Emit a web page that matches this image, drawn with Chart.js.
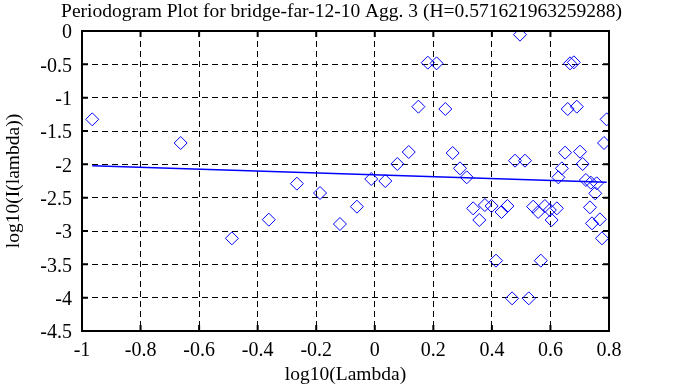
<!DOCTYPE html>
<html>
<head>
<meta charset="utf-8">
<script src="https://cdn.jsdelivr.net/npm/chart.js@4"></script>
<style>
  body { margin: 0; background: #fff; }
  canvas { display: block; }
</style>
</head>
<body>
<canvas id="periodogramChart" width="683" height="387"></canvas>
<script>
// log10(Lambda) / log10(I(lambda)) 값 — 그림에서 읽은 값
const logLambda = [
  -0.965, -0.663, -0.488, -0.362, -0.266, -0.187, -0.119, -0.061, -0.012, 0.036,
  0.077, 0.116, 0.149, 0.181, 0.211, 0.241, 0.266, 0.291, 0.314, 0.336,
  0.357, 0.376, 0.399, 0.414, 0.433, 0.453, 0.469, 0.479, 0.496, 0.513,
  0.526, 0.541, 0.558, 0.567, 0.581, 0.598, 0.604, 0.622, 0.627, 0.639,
  0.65, 0.659, 0.667, 0.68, 0.69, 0.701, 0.71, 0.721, 0.735, 0.738,
  0.742, 0.753, 0.758, 0.769, 0.776, 0.783, 0.792,
];
const logPower = [
  -1.325, -1.68, -3.11, -2.83, -2.29, -2.43, -2.895, -2.635, -2.22, -2.25,
  -1.995, -1.815, -1.135, -0.475, -0.485, -1.17, -1.83, -2.06, -2.195, -2.66,
  -2.835, -2.61, -2.625, -3.445, -2.715, -2.625, -4.01, -1.945, -0.055, -1.945,
  -4.01, -2.635, -2.715, -3.445, -2.625, -2.685, -2.835, -2.66, -2.195, -2.06,
  -1.825, -1.17, -0.485, -0.47, -1.135, -1.81, -1.995, -2.235, -2.645, -2.275,
  -2.885, -2.435, -2.285, -2.825, -3.11, -1.68, -1.325,
];
// 회귀선 양 끝점
const fitX = [-0.965, 0.792];
const fitY = [-2.02, -2.27];

const xTicks = [-1, -0.8, -0.6, -0.4, -0.2, 0, 0.2, 0.4, 0.6, 0.8];
const yTicks = [0, -0.5, -1, -1.5, -2, -2.5, -3, -3.5, -4, -4.5];

const blue = '#0000ff';
const serif = "'Liberation Serif', 'DejaVu Serif', serif";

// 테두리 + 안쪽 눈금
const frameBox = {
  id: 'frameBox',
  afterDraw(chart) {
    const { ctx, chartArea: a, scales } = chart;
    ctx.save();
    ctx.strokeStyle = '#000';
    ctx.lineWidth = 2;
    ctx.setLineDash([]);
    ctx.strokeRect(a.left, a.top, a.right - a.left, a.bottom - a.top);
    const len = 6;
    ctx.beginPath();
    xTicks.forEach((v) => {
      const px = scales.x.getPixelForValue(v);
      ctx.moveTo(px, a.top); ctx.lineTo(px, a.top + len);
      ctx.moveTo(px, a.bottom); ctx.lineTo(px, a.bottom - len);
    });
    yTicks.forEach((v) => {
      const py = scales.y.getPixelForValue(v);
      ctx.moveTo(a.left, py); ctx.lineTo(a.left + len, py);
      ctx.moveTo(a.right, py); ctx.lineTo(a.right - len, py);
    });
    ctx.stroke();
    ctx.restore();
  },
};

const ctx = document.getElementById('periodogramChart');
new Chart(ctx, {
  type: 'scatter',
  data: {
    datasets: [
      {
        label: 'periodogram',
        data: logLambda.map((x, i) => ({ x, y: logPower[i] })),
        pointStyle: 'rectRot',
        pointRadius: 6.5,
        pointBorderWidth: 1,
        borderColor: blue,
        backgroundColor: 'rgba(0,0,0,0)',
        showLine: false,
      },
      {
        label: 'fit',
        type: 'line',
        data: fitX.map((x, i) => ({ x, y: fitY[i] })),
        borderColor: blue,
        borderWidth: 1.5,
        pointRadius: 0,
        fill: false,
      },
    ],
  },
  options: {
    responsive: false,
    animation: false,
    layout: { padding: 0 },
    plugins: {
      legend: { display: false },
      tooltip: { enabled: false },
      title: {
        display: true,
        text: 'Periodogram Plot for bridge-far-12-10 Agg. 3 (H=0.571621963259288)',
        color: '#000',
        font: { family: serif, size: 19.5, weight: 'normal', lineHeight: 1.2 },
        padding: { top: 0, bottom: 7.6 },
      },
    },
    scales: {
      x: {
        type: 'linear',
        min: -1,
        max: 0.8,
        afterBuildTicks: (scale) => { scale.ticks = xTicks.map((v) => ({ value: v })); },
        afterFit: (scale) => { scale.height = 56; },
        ticks: {
          color: '#000', font: { family: serif, size: 20 }, padding: 8, maxRotation: 0,
          callback: (v) => String(v),
        },
        grid: { color: '#000', lineWidth: 1, drawTicks: false },
        border: { display: false, dash: [6, 4] },
        title: {
          display: true,
          text: 'log10(Lambda)',
          color: '#000',
          font: { family: serif, size: 19.5 },
          padding: { top: 0, bottom: 0 },
        },
      },
      y: {
        type: 'linear',
        min: -4.5,
        max: 0,
        afterBuildTicks: (scale) => { scale.ticks = yTicks.map((v) => ({ value: v })); },
        afterFit: (scale) => { scale.width = 82; },
        ticks: {
          color: '#000', font: { family: serif, size: 20 }, padding: 10, labelOffset: 2,
          callback: (v) => String(v),
        },
        grid: { color: '#000', lineWidth: 1, drawTicks: false },
        border: { display: false, dash: [6, 4] },
        title: {
          display: true,
          text: 'log10(I(lambda))',
          color: '#000',
          font: { family: serif, size: 19.5 },
          padding: { top: 2, bottom: 0 },
        },
      },
      // 오른쪽 여백용 빈 축
      yRight: {
        type: 'linear',
        position: 'right',
        min: 0,
        max: 1,
        afterFit: (scale) => { scale.width = 74; },
        ticks: { display: false },
        grid: { display: false },
        border: { display: false },
      },
    },
  },
  plugins: [frameBox],
});
</script>
</body>
</html>
